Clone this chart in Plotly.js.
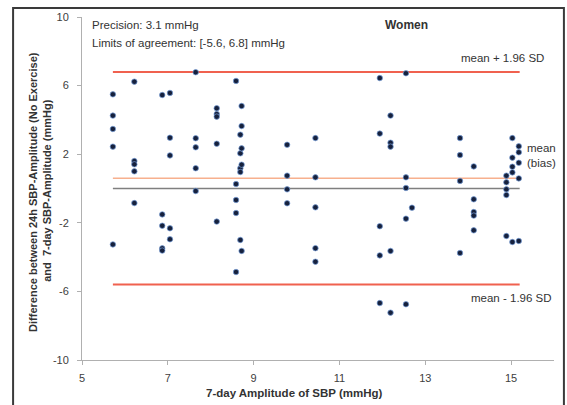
<!DOCTYPE html>
<html>
<head>
<meta charset="utf-8">
<script src="https://cdn.plot.ly/plotly-3.0.1.min.js"></script>
<style>
html,body{margin:0;padding:0;background:#fff;}
#chart{width:567px;height:405px;}
</style>
</head>
<body>
<div id="chart"></div>
<script>
// 7-day amplitude of SBP (x) and difference (y)
const amplitude = [
  5.72,5.72,5.72,5.72,5.72,
  6.22,6.22,6.22,6.22,6.22,
  6.87,6.87,6.87,6.87,6.87,
  7.05,7.05,7.05,7.05,7.05,
  7.65,7.65,7.65,7.65,7.65,
  8.14,8.14,8.14,8.14,8.14,
  8.59,8.59,8.59,8.59,8.59,
  8.69,8.69,8.69,8.69,8.69,
  8.72,8.72,8.72,8.72,8.72,
  9.78,9.78,9.78,9.78,
  10.44,10.44,10.44,10.44,10.44,
  11.94,11.94,11.94,11.94,11.94,
  12.19,12.19,12.19,12.19,12.19,
  12.55,12.55,12.55,12.55,12.55,
  12.69,
  13.81,13.81,13.81,13.81,
  14.13,14.13,14.13,14.13,14.13,
  14.89,14.89,14.89,14.89,14.89,
  15.03,15.03,15.03,15.03,15.03,
  15.18,15.18,15.18,15.18,15.18
];
const difference = [
  5.49,4.25,3.47,2.44,-3.26,
  6.23,1.60,1.41,1.00,-0.85,
  5.45,-1.51,-2.17,-3.49,-3.62,
  5.57,2.96,1.93,-2.32,-2.96,
  6.78,2.93,2.40,1.18,-0.15,
  4.68,4.34,4.19,2.61,-1.93,
  6.27,0.26,-0.67,-1.43,-4.87,
  3.14,2.05,1.18,0.96,-3.00,
  4.81,3.64,2.34,1.39,-3.64,
  2.55,0.75,-0.05,-0.86,
  2.94,0.65,-1.10,-3.48,-4.27,
  6.44,3.20,-2.20,-3.90,-6.68,
  4.25,2.67,2.44,-3.64,-7.24,
  6.72,0.65,0.03,-1.76,-6.75,
  -1.12,
  2.94,1.95,0.44,-3.76,
  1.29,-0.63,-1.37,-1.58,-2.44,
  0.75,0.36,-0.05,-0.38,-2.77,
  2.94,1.80,1.27,0.94,-3.12,
  2.46,2.11,1.50,0.59,-3.06
];
const lineX = [5.72, 15.2];
const meanBias = 0.6;
const upperLimit = 6.8;
const lowerLimit = -5.6;
const zeroLevel = 0;
const xTicks = [5,7,9,11,13,15];
const yTicks = [-10,-6,-2,2,6,10];

const FONT = 'Liberation Sans, Arial, sans-serif';
const TXT = '#333333';

const traces = [
  {x: lineX, y: lineX.map(()=>zeroLevel), mode:'lines', line:{color:'#7f7f7f', width:1.5}, hoverinfo:'skip'},
  {x: lineX, y: lineX.map(()=>meanBias), mode:'lines', line:{color:'#f7b08e', width:1.5}, hoverinfo:'skip'},
  {x: lineX, y: lineX.map(()=>upperLimit), mode:'lines', line:{color:'#f0614f', width:2}, hoverinfo:'skip'},
  {x: lineX, y: lineX.map(()=>lowerLimit), mode:'lines', line:{color:'#f0614f', width:2}, hoverinfo:'skip'},
  {x: amplitude, y: difference, mode:'markers', type:'scatter',
   marker:{size:5.5, color:'#16213d', line:{color:'rgba(120,160,220,0.7)', width:1}}}
];

const layout = {
  width:567, height:405,
  margin:{l:82, r:13, t:17, b:45, pad:0},
  showlegend:false,
  paper_bgcolor:'#ffffff', plot_bgcolor:'#ffffff',
  font:{family:FONT, size:11, color:TXT},
  xaxis:{range:[5,16], tickvals:xTicks, ticktext:xTicks.map(String), showgrid:false, zeroline:false,
    showline:true, linecolor:'#b0b0b0', linewidth:1, ticks:'outside', ticklen:4, tickcolor:'#b0b0b0',
    tickfont:{family:FONT, size:11, color:'#404040'}, ticklabelstandoff:4},
  yaxis:{range:[-10,10], tickvals:yTicks, ticktext:yTicks.map(String), showgrid:false, zeroline:false,
    showline:true, linecolor:'#b0b0b0', linewidth:1, ticks:'outside', ticklen:4, tickcolor:'#b0b0b0',
    tickfont:{family:FONT, size:11, color:'#404040'}, ticklabelstandoff:6},
  shapes:[
    {type:'rect', xref:'paper', yref:'paper', x0:-0.146, x1:1.021, y0:-0.2, y1:1.026,
     line:{color:'#3a3a3a', width:2}, fillcolor:'rgba(0,0,0,0)', layer:'above'}
  ],
  annotations:[
    {xref:'x', yref:'y', x:5.19, y:9.53, xanchor:'left', yanchor:'middle', showarrow:false,
     text:'Precision: 3.1 mmHg', font:{family:FONT, size:11.5, color:TXT}},
    {xref:'x', yref:'y', x:5.19, y:8.48, xanchor:'left', yanchor:'middle', showarrow:false,
     text:'Limits of agreement: [-5.6, 6.8] mmHg', font:{family:FONT, size:11.5, color:TXT}},
    {xref:'x', yref:'y', x:12.56, y:9.53, xanchor:'center', yanchor:'middle', showarrow:false,
     text:'<b>Women</b>', font:{family:FONT, size:12, color:TXT}},
    {xref:'x', yref:'y', x:14.81, y:7.6, xanchor:'center', yanchor:'middle', showarrow:false,
     text:'mean + 1.96 SD', font:{family:FONT, size:11.5, color:TXT}},
    {xref:'x', yref:'y', x:15.0, y:-6.4, xanchor:'center', yanchor:'middle', showarrow:false,
     text:'mean - 1.96 SD', font:{family:FONT, size:11.5, color:TXT}},
    {xref:'x', yref:'y', x:15.33, y:1.9, xanchor:'left', yanchor:'middle', align:'left', showarrow:false,
     text:'mean<br>(bias)', font:{family:FONT, size:11.5, color:TXT}},
    {xref:'paper', yref:'paper', x:-0.089, y:0.49, xanchor:'center', yanchor:'middle', textangle:-90, showarrow:false,
     text:'<b>Difference between 24h SBP-Amplitude (No Exercise)<br> and  7-day SBP-Amplitude (mmHg)</b>',
     font:{family:FONT, size:11, color:TXT}},
    {xref:'paper', yref:'paper', x:0.451, y:-0.096, xanchor:'center', yanchor:'middle', showarrow:false,
     text:'<b>7-day Amplitude of SBP (mmHg)</b>', font:{family:FONT, size:11.5, color:TXT}}
  ]
};

Plotly.newPlot('chart', traces, layout, {displayModeBar:false, staticPlot:true});
</script>
</body>
</html>
